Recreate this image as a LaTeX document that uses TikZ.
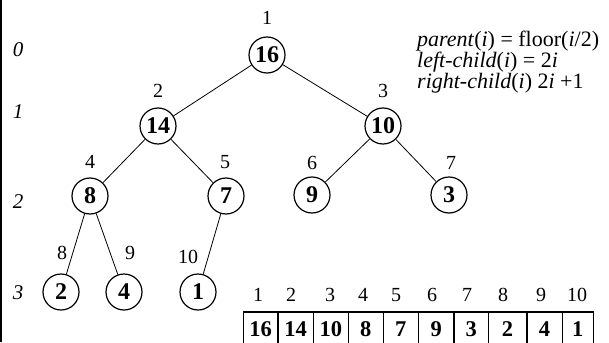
\documentclass[tikz,border=0pt]{standalone}
\usepackage{fontspec}
\setmainfont{Liberation Serif}
\begin{document}
\begin{tikzpicture}[x=1pt,y=-1pt,
  key/.style={circle,draw,line width=1.2pt,minimum size=36pt,inner sep=0pt,
    font=\fontsize{24}{24}\selectfont\bfseries},
  idx/.style={inner sep=0pt,font=\fontsize{20}{20}\selectfont},
  lvl/.style={inner sep=0pt,font=\fontsize{21}{21}\selectfont\itshape},
  rule/.style={anchor=base west,inner sep=0pt,font=\fontsize{22}{22}\selectfont},
  link/.style={line width=0.8pt},
  cell/.style={draw,line width=1.6pt,minimum height=34.6pt,inner sep=0pt,
    font=\fontsize{22.5}{22.5}\selectfont\bfseries}]
\useasboundingbox (0,0) rectangle (609,342);
\clip (0,0) rectangle (609,342);

% frame edge on the left
\coordinate (ftop) at (1.2,0);
\coordinate (fbot) at (1.2,342);
\draw[line width=1.6pt] (ftop) -- (fbot);

% level numbers
\node[lvl] (l0) at (18,50) {0};
\node[lvl] (l1) at (18,112) {1};
\node[lvl] (l2) at (18,202) {2};
\node[lvl] (l3) at (18,293) {3};

% heap nodes
\node[key] (n16) at (267,55) {16};
\node[key] (n14) at (158,126) {14};
\node[key] (n10) at (383,126) {10};
\node[key] (n8)  at (90,196) {8};
\node[key] (n7)  at (226,196) {7};
\node[key] (n9)  at (312,195) {9};
\node[key] (n3)  at (449,195) {3};
\node[key] (n2)  at (61,292) {2};
\node[key] (n4)  at (124,292) {4};
\node[key] (n1)  at (198,292) {1};

% array positions of the nodes
\node[idx] (i1)  at (267,18) {1};
\node[idx] (i2)  at (158,91) {2};
\node[idx] (i3)  at (383,91) {3};
\node[idx] (i4)  at (90,162) {4};
\node[idx] (i5)  at (225,162) {5};
\node[idx] (i6)  at (312,163) {6};
\node[idx] (i7)  at (451,163) {7};
\node[idx] (i8)  at (62,253) {8};
\node[idx] (i9)  at (130,253) {9};
\node[idx] (i10) at (188,257) {10};

% tree edges
\draw[link] (n16) -- (n14);
\draw[link] (n16) -- (n10);
\draw[link] (n14) -- (n8);
\draw[link] (n14) -- (n7);
\draw[link] (n10) -- (n9);
\draw[link] (n10) -- (n3);
\draw[link] (n8) -- (n2);
\draw[link] (n8) -- (n4);
\draw[link] (n7) -- (n1);

% index formulas
\node[rule] (fparent) at (417,47)
  {\textit{parent}(\textit{i}) = floor(\textit{i}/2)};
\node[rule] (fleft) at (417,68)
  {\textit{left-child}(\textit{i}) = 2\textit{i}};
\node[rule] (fright) at (417,88.5)
  {\textit{right-child}(\textit{i}) 2\textit{i} +1};

% array layout
\node[cell,minimum width=34.4pt] (a1)  at (260.5,329) {16};
\node[cell,minimum width=35.6pt] (a2)  at (295.5,329) {14};
\node[cell,minimum width=35.0pt] (a3)  at (330.8,329) {10};
\node[cell,minimum width=35.0pt] (a4)  at (365.8,329) {8};
\node[cell,minimum width=35.0pt] (a5)  at (400.8,329) {7};
\node[cell,minimum width=35.7pt] (a6)  at (436.2,329) {9};
\node[cell,minimum width=34.3pt] (a7)  at (471.2,329) {3};
\node[cell,minimum width=38.4pt] (a8)  at (507.5,329) {2};
\node[cell,minimum width=35.6pt] (a9)  at (544.5,329) {4};
\node[cell,minimum width=31.0pt] (a10) at (577.8,329) {1};

\node[idx] (p1)  at (258,295) {1};
\node[idx] (p2)  at (291,295) {2};
\node[idx] (p3)  at (330,295) {3};
\node[idx] (p4)  at (363,295) {4};
\node[idx] (p5)  at (396,295) {5};
\node[idx] (p6)  at (432,295) {6};
\node[idx] (p7)  at (467,295) {7};
\node[idx] (p8)  at (503,295) {8};
\node[idx] (p9)  at (541,295) {9};
\node[idx] (p10) at (577,295) {10};
\end{tikzpicture}
\end{document}
